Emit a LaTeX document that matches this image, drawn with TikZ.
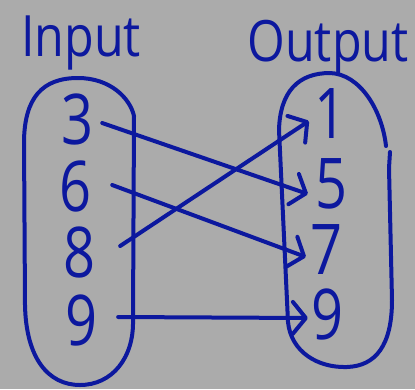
\documentclass[tikz,border=0pt]{standalone}
\usepackage{fontspec}
\setmainfont{Open Sans}
\usetikzlibrary{arrows.meta}
\definecolor{ink}{RGB}{12,24,158}
\definecolor{board}{RGB}{171,171,171}
\tikzset{
  pen/.style={draw=ink, line width=4pt, line cap=round, line join=round},
  word/.style={text=ink, inner sep=0pt, font=\fontsize{57}{57}\selectfont, xscale=0.85},
  digit/.style={text=ink, inner sep=0pt, font=\fontsize{70}{70}\selectfont, xscale=0.8},
  maps/.style={pen, -{Straight Barb[length=13pt, width=32pt, line width=4pt, round]}},
}
\begin{document}
\begin{tikzpicture}[x=1pt, y=-1pt]
  % board
  \fill[board] (0,0) rectangle (415,389);
  \useasboundingbox (0,0) rectangle (415,389);

  % headings
  \node[word] (inp) at (81,43) {Input};
  \node[word] (outp) at (328,48) {Output};

  % the two sets
  \draw[pen] (78,78) .. controls (42,78) and (25,98) .. (24,140)
    -- (25,305) .. controls (26,358) and (48,385) .. (80,385)
    .. controls (112,385) and (134,358) .. (133,320)
    -- (134,116) .. controls (130,98) and (110,78) .. (78,78) -- cycle;
  \draw[pen] (134,124) -- (134,136);
  \draw[pen] (330,73) .. controls (298,73) and (280,92) .. (279,130)
    -- (288,322) .. controls (291,352) and (318,368) .. (347,367)
    .. controls (376,366) and (392,345) .. (392,300)
    -- (389,168) -- (390,152);
  \draw[pen] (330,73) .. controls (360,74) and (382,110) .. (386,146);

  % inputs
  \node[digit] (a3) at (78,119) {3};
  \node[digit] (a6) at (76,186) {6};
  \node[digit] (a8) at (80,252) {8};
  \node[digit] (a9) at (82,320) {9};

  % outputs
  \node[digit] (b1) at (331,114) {1};
  \node[digit] (b5) at (332,184) {5};
  \node[digit] (b7) at (327,250) {7};
  \node[digit] (b9) at (328,314) {9};

  % mapping arrows
  \draw[maps] ([xshift=8pt,yshift=-4pt]a3.east) -- ([xshift=-8pt,yshift=-10pt]b5.west);
  \draw[maps] ([xshift=20pt,yshift=1pt]a6.east) -- ([xshift=-5pt,yshift=-7pt]b7.west);
  \draw[maps] ([xshift=24pt,yshift=6pt]a8.east) -- ([xshift=-6pt,yshift=-7pt]b1.west);
  \draw[maps] ([xshift=20pt,yshift=3pt]a9.east) -- ([xshift=-4pt,yshift=-4pt]b9.west);
\end{tikzpicture}
\end{document}
